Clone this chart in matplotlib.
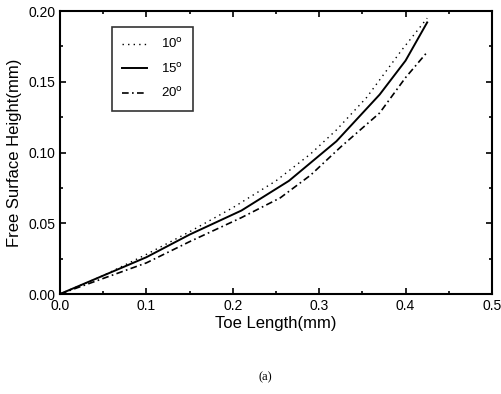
import matplotlib
matplotlib.use("Agg")
import matplotlib.pyplot as plt
import matplotlib.ticker as mticker

plt.rcParams['font.family'] = ['Liberation Sans', 'DejaVu Sans']

# Toe length (mm) / free surface height (mm)
x_10 = [0.0, 0.05, 0.10, 0.15, 0.20, 0.25, 0.29, 0.32, 0.355, 0.395, 0.425]
y_10 = [0.0, 0.013, 0.028, 0.044, 0.061, 0.080, 0.099, 0.116, 0.139, 0.172, 0.195]

x_15 = [0.0, 0.05, 0.10, 0.15, 0.21, 0.265, 0.32, 0.37, 0.40, 0.425]
y_15 = [0.0, 0.013, 0.026, 0.042, 0.059, 0.080, 0.108, 0.141, 0.165, 0.192]

x_20 = [0.0, 0.05, 0.10, 0.15, 0.21, 0.255, 0.29, 0.325, 0.37, 0.40, 0.425]
y_20 = [0.0, 0.011, 0.022, 0.037, 0.054, 0.068, 0.084, 0.104, 0.128, 0.153, 0.171]

labels = ["10$^{\\mathrm{o}}$", "15$^{\\mathrm{o}}$", "20$^{\\mathrm{o}}$"]

fig = plt.figure(figsize=(5.02, 3.94), dpi=100)
ax = fig.add_axes([0.1195, 0.2538, 0.8605, 0.718])

ax.plot(x_10, y_10, color="black", lw=1.0, linestyle=(0, (1, 3)), label=labels[0])
ax.plot(x_15, y_15, color="black", lw=1.4, linestyle="-", label=labels[1])
ax.plot(x_20, y_20, color="black", lw=1.2, linestyle=(0, (4, 2, 1, 2)), label=labels[2])

ax.set_xlim(0, 0.5)
ax.set_ylim(0, 0.2)
ax.xaxis.set_major_locator(mticker.MultipleLocator(0.1))
ax.xaxis.set_minor_locator(mticker.MultipleLocator(0.05))
ax.yaxis.set_major_locator(mticker.MultipleLocator(0.05))
ax.yaxis.set_minor_locator(mticker.MultipleLocator(0.025))
ax.xaxis.set_major_formatter(mticker.StrMethodFormatter('{x:.1f}'))
ax.yaxis.set_major_formatter(mticker.StrMethodFormatter('{x:.2f}'))
ax.tick_params(which="both", direction="in", top=True, right=True, labelsize=10, width=1.2)
ax.tick_params(which="major", length=4)
ax.tick_params(which="minor", length=2)
for s in ax.spines.values():
    s.set_linewidth(1.5)

ax.set_xlabel("Toe Length(mm)", fontsize=12, labelpad=2)
ax.set_ylabel("Free Surface Height(mm)", fontsize=12, labelpad=4)

leg = ax.legend(loc="upper left", bbox_to_anchor=(0.12, 0.945), frameon=True, fancybox=False,
                edgecolor="black", fontsize=9.5, handlelength=1.9, borderaxespad=0,
                borderpad=0.8, labelspacing=0.8, handletextpad=1.0)
leg.get_frame().set_linewidth(1.2)

fig.text(0.528, 0.035, "(a)", fontsize=9, family="Liberation Serif", ha="center")

fig.savefig("out.png", dpi=100)
